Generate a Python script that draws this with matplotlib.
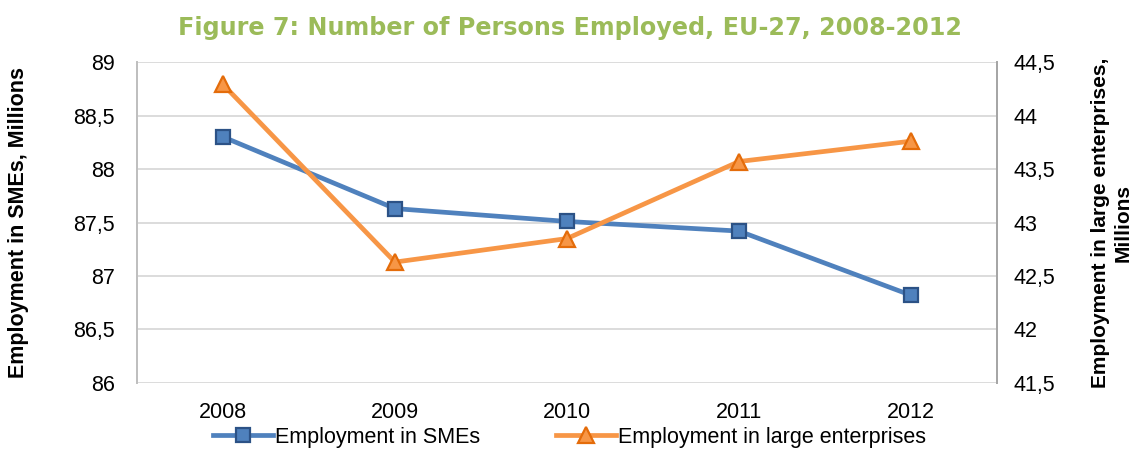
import matplotlib.pyplot as plt
import matplotlib.font_manager as fm

years = ["2008", "2009", "2010", "2011", "2012"]
smes = [88.30, 87.63, 87.51, 87.42, 86.82]
large = [44.29, 42.63, 42.85, 43.57, 43.76]

left_ticks = [86, 86.5, 87, 87.5, 88, 88.5, 89]
right_ticks = [41.5, 42, 42.5, 43, 43.5, 44, 44.5]

names = {f.name for f in fm.fontManager.ttflist}
body_font = "Liberation Sans Narrow" if "Liberation Sans Narrow" in names else "Liberation Sans"
plt.rcParams["font.family"] = [body_font, "DejaVu Sans"]


def fmt(v):
    s = f"{v:g}"
    return s.replace(".", ",")


fig = plt.figure(figsize=(11.39, 4.5), dpi=100)
ax = fig.add_axes([0.1203, 0.1489, 0.7550, 0.7133])
ax2 = ax.twinx()

x = range(len(years))
l1, = ax.plot(x, smes, color="#4F81BD", lw=3.4, marker="s", ms=10,
              mfc="#4F81BD", mec="#2C5286", mew=1.6, label="Employment in SMEs",
              zorder=3)
l2, = ax2.plot(x, large, color="#F79646", lw=3.4, marker="^", ms=11,
               mfc="#F79646", mec="#E46C0A", mew=1.6,
               label="Employment in large enterprises", zorder=3)

ax.set_xlim(-0.5, len(years) - 0.5)
ax.set_ylim(86, 89)
ax2.set_ylim(41.5, 44.5)
ax.set_yticks(left_ticks)
ax.set_yticklabels([fmt(v) for v in left_ticks])
ax2.set_yticks(right_ticks)
ax2.set_yticklabels([fmt(v) for v in right_ticks])
ax.set_xticks(list(x))
ax.set_xticklabels(years)

ax.grid(axis="y", color="#D9D9D9", lw=1.3)
ax.set_axisbelow(True)
for a in (ax, ax2):
    a.tick_params(length=0, labelsize=15.5, colors="black")
    a.spines["top"].set_visible(False)
    a.spines["bottom"].set_visible(False)
    a.spines["left"].set_color("#BFBFBF")
    a.spines["right"].set_color("#A6A6A6")
    a.spines["left"].set_linewidth(1.3)
    a.spines["right"].set_linewidth(1.3)
ax.tick_params(axis="y", pad=16)
ax2.tick_params(axis="y", pad=12)
ax.tick_params(axis="x", pad=14)

ax.set_ylabel("Employment in SMEs, Millions", fontsize=15.5, fontweight="bold",
              labelpad=32)
ax2.set_ylabel("Employment in large enterprises,\nMillions", fontsize=15,
               fontweight="bold", labelpad=26)

fig.text(0.5, 0.938, "Figure 7: Number of Persons Employed, EU-27, 2008-2012",
         ha="center", va="center", color="#9BBB59", fontsize=17.2,
         fontweight="bold", family="DejaVu Sans")

fig.legend([l1, l2], [l1.get_label(), l2.get_label()], loc="center",
           bbox_to_anchor=(0.5, 0.028), ncol=2, frameon=False, fontsize=15.5,
           handlelength=2.8, handletextpad=0.1, columnspacing=3.5,
           borderaxespad=0)

fig.savefig("out.png", dpi=100)
